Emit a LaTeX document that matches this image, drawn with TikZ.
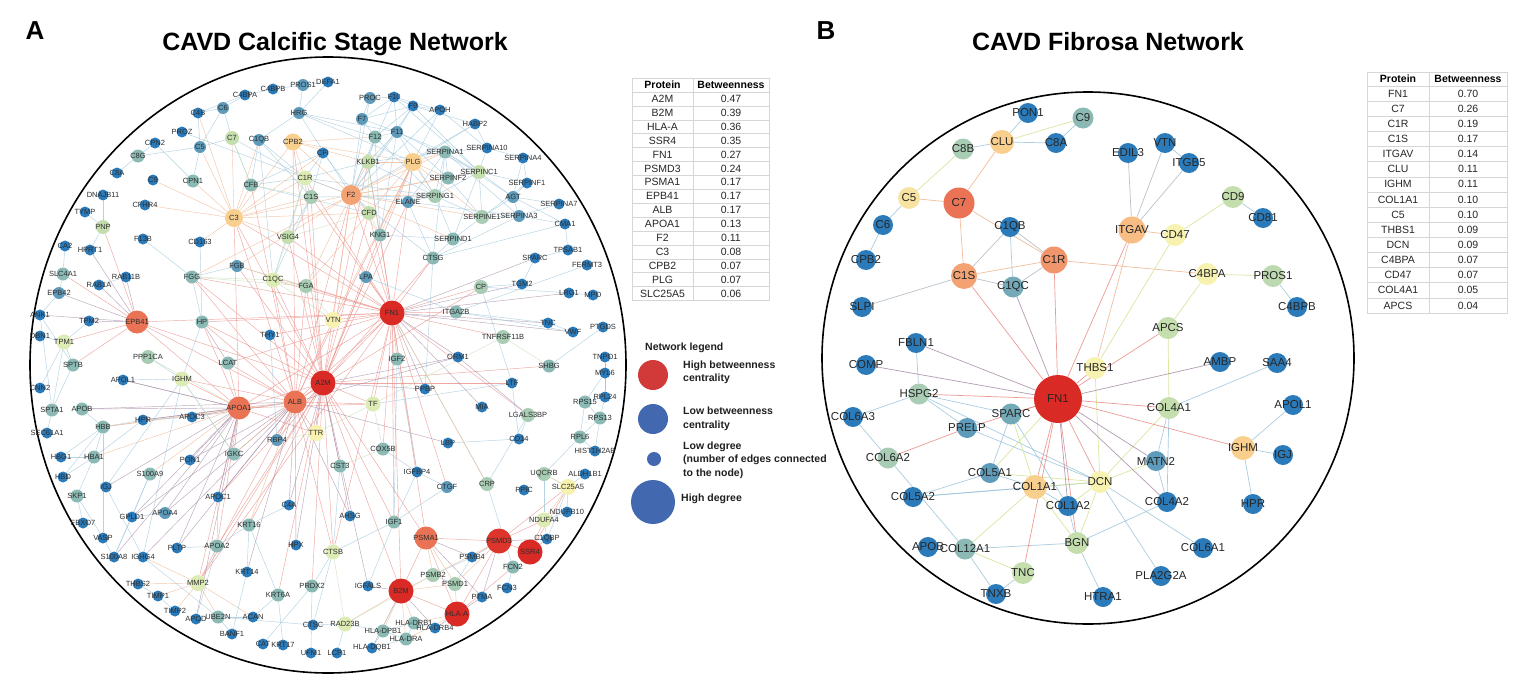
\documentclass[tikz,border=0pt]{standalone}
\usepackage{fontspec}
\setmainfont{Liberation Sans}
\pgfdeclarelayer{bg}
\pgfdeclarelayer{edges}
\pgfsetlayers{bg,edges,main}
\definecolor{cB}{HTML}{2B7BBA}
\definecolor{cTB}{HTML}{5E9BBB}
\definecolor{cT}{HTML}{8BBAB4}
\definecolor{cTG}{HTML}{A8CCB4}
\definecolor{cLG}{HTML}{C4DEAD}
\definecolor{cYG}{HTML}{DDEBB4}
\definecolor{cY}{HTML}{F7F2B0}
\definecolor{cLO}{HTML}{F9CF8E}
\definecolor{cO}{HTML}{F3A274}
\definecolor{cOR}{HTML}{EB7355}
\definecolor{cR}{HTML}{DA2A25}
\definecolor{eB}{HTML}{9CC5DA}
\definecolor{eR}{HTML}{E98A82}
\definecolor{eP}{HTML}{A58AA6}
\definecolor{eG}{HTML}{C5DDB5}
\definecolor{eO}{HTML}{F0B48E}
\definecolor{eGr}{HTML}{AEB8C2}
\definecolor{lR}{HTML}{D23A3A}
\definecolor{lB}{HTML}{4268B0}
\definecolor{tgr}{HTML}{D6D6D6}
\newcommand\PA[4]{\node[#4] (#1) at (#2,#3) {\makebox[0pt]{#1}};}
\newcommand\PB[4]{\node[#4] (b#1) at (#2,#3) {\makebox[0pt]{#1}};}
\newcommand\EE[2]{\foreach \ea/\eb in {#2} {\draw[#1] (\ea) -- (\eb);}}
\begin{document}
\begin{tikzpicture}[x=1pt,y=-1pt,
  nA/.style={circle,inner sep=0pt,font=\fontsize{7.5}{9}\selectfont,text=black!82},
  aB/.style={nA,fill=cB,minimum size=11},
  aTB/.style={nA,fill=cTB,minimum size=12},
  aT/.style={nA,fill=cT,minimum size=13},
  aTG/.style={nA,fill=cTG,minimum size=14},
  aLG/.style={nA,fill=cLG,minimum size=14},
  aYG/.style={nA,fill=cYG,minimum size=15},
  aY/.style={nA,fill=cY,minimum size=16},
  aLO/.style={nA,fill=cLO,minimum size=17},
  aO/.style={nA,fill=cO,minimum size=20},
  aOR/.style={nA,fill=cOR,minimum size=23},
  aR/.style={nA,fill=cR,minimum size=25},
  nB/.style={circle,inner sep=0pt,font=\fontsize{11.5}{13}\selectfont,text=black!85},
  bB/.style={nB,fill=cB,minimum size=20},
  bTB/.style={nB,fill=cTB,minimum size=20},
  bT/.style={nB,fill=cT,minimum size=21},
  bTG/.style={nB,fill=cTG,minimum size=21},
  bLG/.style={nB,fill=cLG,minimum size=22},
  bY/.style={nB,fill=cY,minimum size=22},
  bLO/.style={nB,fill=cLO,minimum size=24},
  bO/.style={nB,fill=cO,minimum size=27},
  bOR/.style={nB,fill=cOR,minimum size=31},
  bR/.style={nB,fill=cR,minimum size=48},
  ed/.style={line width=0.45pt,draw opacity=0.75},
  er/.style={ed,draw=eR}, ep/.style={ed,draw=eP}, eb/.style={ed,draw=eB},
  eg/.style={ed,draw=eG}, eo/.style={ed,draw=eO}, egr/.style={ed,draw=eGr},
  fd/.style={line width=0.7pt,draw opacity=0.85},
  fr/.style={fd,draw=eR}, fp/.style={fd,draw=eP}, fb/.style={fd,draw=eB},
  fg/.style={fd,draw=eG!80!yellow}, fo/.style={fd,draw=eO}, fgr/.style={fd,draw=eGr},
  thead/.style={font=\bfseries\fontsize{10.5}{12}\selectfont,inner sep=0pt},
  tcell/.style={font=\fontsize{10.5}{12}\selectfont,inner sep=0pt,text=black!85},
  tgrid/.style={draw=tgr,line width=0.5pt},
  lgt/.style={font=\bfseries\fontsize{10.5}{13.5}\selectfont,anchor=west,align=left,inner sep=0pt,text=black!88}
]
\begin{pgfonlayer}{bg}
\fill[white] (0,0) rectangle (1537,680);
\end{pgfonlayer}
\useasboundingbox (0,0) rectangle (1537,680);

% titles
\node[font=\bfseries\fontsize{26}{30}\selectfont] (labA) at (35,31) {A};
\node[font=\bfseries\fontsize{25}{28}\selectfont,anchor=base] (titA) at (335,50) {CAVD Calcific Stage Network};
\node[font=\bfseries\fontsize{26}{30}\selectfont] (labB) at (826,31) {B};
\node[font=\bfseries\fontsize{25}{28}\selectfont,anchor=base] (titB) at (1108,50) {CAVD Fibrosa Network};

% frames
\draw[line width=1.6pt] (328,365) ellipse [x radius=298, y radius=308];
\draw[line width=1.6pt] (1088,358) circle [radius=266];

% ===== Panel A nodes =====
\PA{C4B}{198}{113}{aB}
\PA{C6}{223}{108}{aTB}
\PA{C4BPA}{245}{95}{aB}
\PA{C4BPB}{273}{89}{aB}
\PA{PROS1}{303}{85}{aTB}
\PA{DEFA1}{328}{82}{aB}
\PA{HRG}{299}{113}{aTB}
\PA{PROZ}{182}{132}{aB}
\PA{C5}{200}{147}{aTB}
\PA{C7}{232}{138}{aLG}
\PA{C1QB}{259}{140}{aTB}
\PA{CPB2}{293}{142}{aLO}
\PA{CFI}{323}{153}{aB}
\PA{CPN2}{155}{143}{aB}
\PA{C8G}{138}{156}{aT}
\PA{C8A}{117}{173}{aB}
\PA{C9}{153}{180}{aB}
\PA{CPN1}{193}{181}{aT}
\PA{CFB}{251}{185}{aT}
\PA{C1R}{305}{178}{aYG}
\PA{C1S}{311}{197}{aTG}
\PA{DNAJB11}{103}{195}{aB}
\PA{CFHR4}{145}{205}{aB}
\PA{TYMP}{85}{212}{aB}
\PA{PNP}{103}{227}{aLG}
\PA{C3}{234}{218}{aLO,minimum size=18}
\PA{VSIG4}{288}{237}{aLG}
\PA{F13B}{143}{239}{aB}
\PA{CD163}{200}{242}{aB}
\PA{CA2}{65}{246}{aB}
\PA{HPRT1}{90}{250}{aB}
\PA{PROC}{370}{98}{aTB}
\PA{F10}{394}{97}{aB}
\PA{F9}{413}{106}{aB}
\PA{APOH}{440}{110}{aB}
\PA{F7}{362}{119}{aTB}
\PA{F11}{397}{132}{aTB}
\PA{F12}{375}{137}{aT}
\PA{HABP2}{475}{124}{aB}
\PA{SERPINA1}{445}{152}{aT}
\PA{SERPINA10}{487}{148}{aB}
\PA{SERPINA4}{523}{158}{aB}
\PA{KLKB1}{368}{162}{aLG}
\PA{PLG}{413}{162}{aLO,minimum size=18}
\PA{SERPINC1}{479}{172}{aLG}
\PA{SERPINF2}{448}{178}{aT}
\PA{SERPINF1}{527}{183}{aB}
\PA{F2}{351}{195}{aO}
\PA{SERPING1}{435}{196}{aTG}
\PA{ELANE}{408}{202}{aTB}
\PA{AGT}{513}{197}{aTB}
\PA{SERPINA7}{559}{204}{aB}
\PA{CFD}{369}{213}{aLG}
\PA{SERPINE1}{482}{217}{aTG}
\PA{SERPINA3}{519}{216}{aTB}
\PA{CMA1}{565}{224}{aB}
\PA{KNG1}{380}{235}{aT}
\PA{SERPIND1}{453}{239}{aT}
\PA{TPSAB1}{568}{250}{aB}
\PA{SPARC}{535}{258}{aB}
\PA{CTSG}{433}{258}{aT}
\PA{SLC4A1}{63}{274}{aT}
\PA{RAB11B}{126}{277}{aB}
\PA{RAB1A}{99}{285}{aB}
\PA{EPB42}{59}{293}{aTB}
\PA{FGG}{192}{277}{aT}
\PA{FGB}{237}{266}{aTB}
\PA{C1QC}{273}{280}{aYG}
\PA{FGA}{306}{286}{aTG}
\PA{EPB41}{137}{322}{aOR}
\PA{HP}{202}{322}{aT}
\PA{ANK1}{40}{315}{aB}
\PA{TPM2}{89}{321}{aB}
\PA{VTN}{333}{320}{aY}
\PA{THY1}{270}{335}{aB}
\PA{TPM1}{64}{342}{aYG}
\PA{DBN1}{40}{336}{aB}
\PA{PPP1CA}{148}{357}{aTG}
\PA{SPTB}{73}{365}{aT}
\PA{LCAT}{228}{363}{aT}
\PA{APOL1}{123}{380}{aB}
\PA{IGHM}{182}{379}{aYG}
\PA{A2M}{323}{383}{aR}
\PA{CNN2}{40}{388}{aB}
\PA{ALB}{295}{402}{aOR}
\PA{APOA1}{239}{408}{aOR}
\PA{SPTA1}{52}{410}{aT}
\PA{APOB}{82}{409}{aT}
\PA{HBB}{103}{427}{aT}
\PA{HPR}{143}{420}{aB}
\PA{APOC3}{192}{417}{aB}
\PA{TTR}{316}{433}{aY}
\PA{SEC61A1}{47}{433}{aB}
\PA{RBP4}{277}{440}{aTB}
\PA{HBG1}{61}{457}{aB}
\PA{HBA1}{94}{457}{aT}
\PA{PON1}{190}{460}{aB}
\PA{IGKC}{234}{454}{aT}
\PA{CST3}{340}{466}{aT}
\PA{FERMT3}{587}{265}{aB}
\PA{LPA}{366}{277}{aTB}
\PA{CP}{481}{287}{aTG}
\PA{TGM2}{522}{284}{aB}
\PA{LRG1}{569}{293}{aB}
\PA{MPO}{593}{295}{aB}
\PA{FN1}{392}{313}{aR}
\PA{ITGA2B}{456}{312}{aT}
\PA{TNC}{548}{323}{aB}
\PA{VWF}{573}{332}{aB}
\PA{PTGDS}{603}{327}{aB}
\PA{TNFRSF11B}{503}{337}{aTG}
\PA{IGF2}{397}{359}{aT}
\PA{ORM1}{458}{357}{aB}
\PA{SHBG}{549}{366}{aT}
\PA{TNPO1}{605}{357}{aB}
\PA{MYL6}{605}{373}{aB}
\PA{LTF}{512}{383}{aB}
\PA{PPBP}{425}{389}{aB}
\PA{RPL24}{605}{397}{aB}
\PA{RPS15}{585}{402}{aT}
\PA{TF}{373}{404}{aYG}
\PA{MIA}{482}{407}{aB}
\PA{LGALS3BP}{528}{415}{aTG}
\PA{RPS13}{600}{418}{aT}
\PA{LBP}{448}{443}{aB}
\PA{CD14}{519}{439}{aB}
\PA{RPL6}{580}{437}{aT}
\PA{HIST1H2AB}{595}{451}{aB}
\PA{COX5B}{383}{449}{aT}
\PA{IGFBP4}{417}{472}{aB}
\PA{HBD}{63}{477}{aB}
\PA{S100A9}{150}{474}{aT}
\PA{IGJ}{106}{487}{aB}
\PA{SKP1}{77}{496}{aT}
\PA{APOC1}{218}{497}{aB}
\PA{GPLD1}{132}{517}{aB}
\PA{APOA4}{165}{513}{aTB}
\PA{C4A}{289}{505}{aB}
\PA{FBXO7}{83}{523}{aB}
\PA{KRT16}{249}{525}{aT}
\PA{VASP}{103}{538}{aB}
\PA{APOA2}{217}{546}{aT}
\PA{HPX}{296}{545}{aB}
\PA{PLTP}{177}{548}{aB}
\PA{S100A8}{114}{557}{aB}
\PA{IGHG4}{143}{557}{aB}
\PA{CTSB}{333}{552}{aYG}
\PA{KRT14}{247}{572}{aB}
\PA{THBS2}{138}{584}{aB}
\PA{MMP2}{198}{583}{aYG,minimum size=16}
\PA{TIMP1}{158}{596}{aB}
\PA{KRT6A}{278}{595}{aT}
\PA{PRDX2}{312}{586}{aT}
\PA{TIMP2}{175}{611}{aB}
\PA{APOD}{196}{619}{aB}
\PA{UBE2N}{218}{617}{aT}
\PA{ACAN}{253}{617}{aB}
\PA{CTSC}{313}{625}{aB}
\PA{RAD23B}{345}{624}{aYG}
\PA{BANF1}{232}{634}{aB}
\PA{CAT}{263}{644}{aB}
\PA{KRT17}{283}{645}{aB}
\PA{UFM1}{311}{653}{aB}
\PA{LCP1}{337}{653}{aB}
\PA{CTGF}{447}{487}{aTB}
\PA{CRP}{487}{484}{aTG}
\PA{PPIC}{524}{490}{aB}
\PA{UQCRB}{544}{474}{aTG}
\PA{ALDH1B1}{585}{474}{aB}
\PA{SLC25A5}{568}{487}{aY}
\PA{AHSG}{350}{516}{aB}
\PA{IGF1}{394}{522}{aT}
\PA{NDUFB10}{567}{512}{aB}
\PA{NDUFA4}{544}{520}{aYG}
\PA{PSMA1}{426}{538}{aOR}
\PA{PSMD3}{499}{541}{aR,fill=cR!85!cOR}
\PA{C1QBP}{547}{539}{aB}
\PA{SSR4}{530}{552}{aR}
\PA{PSMB4}{472}{557}{aB}
\PA{FCN2}{513}{567}{aT}
\PA{PSMB2}{433}{575}{aTG}
\PA{PSMD1}{455}{584}{aTG}
\PA{IGFALS}{368}{586}{aB}
\PA{FCN3}{507}{588}{aB}
\PA{B2M}{401}{591}{aR}
\PA{PTMA}{482}{597}{aB}
\PA{HLA-A}{457}{614}{aR}
\PA{HLA-DPB1}{383}{631}{aT}
\PA{HLA-DRB1}{414}{623}{aT}
\PA{HLA-DRB4}{435}{628}{aB}
\PA{HLA-DRA}{406}{639}{aT}
\PA{HLA-DQB1}{372}{648}{aB}

% ===== Panel B nodes =====
\PB{PON1}{1028}{113}{bB}
\PB{C9}{1083}{118}{bT}
\PB{CLU}{1002}{142}{bLO}
\PB{C8B}{963}{149}{bTG}
\PB{C8A}{1056}{143}{bB}
\PB{EDIL3}{1128}{153}{bB}
\PB{VTN}{1165}{143}{bB}
\PB{ITGB5}{1189}{163}{bB}
\PB{C5}{909}{198}{bY,fill=cY!60!cLO}
\PB{C7}{959}{203}{bOR}
\PB{CD9}{1233}{197}{bLG}
\PB{C6}{883}{225}{bB}
\PB{CD81}{1263}{218}{bB}
\PB{C1QB}{1010}{227}{bB}
\PB{ITGAV}{1132}{230}{bO,fill=cLO!60!cO}
\PB{CD47}{1175}{235}{bY}
\PB{CPB2}{866}{260}{bB}
\PB{C1R}{1054}{260}{bO,fill=cO!75!cOR}
\PB{C1S}{964}{276}{bO,minimum size=26}
\PB{C4BPA}{1207}{274}{bY}
\PB{PROS1}{1273}{276}{bLG,fill=cLG!70!cTG}
\PB{C1QC}{1013}{287}{bT,fill=cT!50!cTB}
\PB{SLPI}{862}{307}{bB}
\PB{C4BPB}{1297}{307}{bB}
\PB{APCS}{1168}{328}{bLG}
\PB{FBLN1}{916}{343}{bB}
\PB{COMP}{866}{365}{bB}
\PB{THBS1}{1095}{368}{bY}
\PB{AMBP}{1220}{362}{bB}
\PB{SAA4}{1277}{363}{bB}
\PB{FN1}{1058}{399}{bR}
\PB{HSPG2}{919}{394}{bTG}
\PB{COL4A1}{1169}{408}{bLG}
\PB{APOL1}{1293}{405}{bB}
\PB{COL6A3}{853}{417}{bB}
\PB{SPARC}{1011}{414}{bT,fill=cT!50!cTB}
\PB{PRELP}{967}{428}{bTB}
\PB{IGHM}{1243}{448}{bLO}
\PB{IGJ}{1283}{455}{bB}
\PB{COL6A2}{888}{458}{bTG}
\PB{MATN2}{1156}{461}{bTB}
\PB{COL5A1}{990}{473}{bTB}
\PB{DCN}{1100}{482}{bY}
\PB{COL1A1}{1035}{487}{bLO}
\PB{COL5A2}{913}{497}{bB}
\PB{COL1A2}{1068}{506}{bB}
\PB{COL4A2}{1167}{502}{bB}
\PB{HPR}{1253}{504}{bB}
\PB{BGN}{1077}{543}{bLG}
\PB{APOB}{928}{547}{bB}
\PB{COL12A1}{965}{549}{bT}
\PB{COL6A1}{1203}{548}{bB}
\PB{TNC}{1023}{573}{bLG}
\PB{PLA2G2A}{1161}{576}{bB}
\PB{TNXB}{996}{594}{bB}
\PB{HTRA1}{1103}{597}{bB}

% ===== edges =====
\begin{pgfonlayer}{edges}
\EE{er}{FN1/C1R, FN1/C1S, FN1/F2, FN1/CFD, FN1/KNG1, FN1/FGA, FN1/FGG, FN1/FGB, FN1/C1QC, FN1/VTN, FN1/LPA, FN1/CTSG, FN1/ITGA2B, FN1/CP, FN1/TNFRSF11B, FN1/IGF2, FN1/TF, FN1/ALB, FN1/A2M, FN1/APOA1, FN1/HP, FN1/LCAT, FN1/THY1, FN1/IGFBP4, FN1/CTGF, FN1/IGF1, FN1/PSMA1, FN1/CTSB, FN1/MMP2, FN1/C3, FN1/PLG, FN1/KLKB1, FN1/VSIG4, FN1/EPB41, FN1/CRP, FN1/LGALS3BP, FN1/COX5B}
\EE{er}{A2M/F2, A2M/PLG, A2M/C3, A2M/KLKB1, A2M/CPB2, A2M/ELANE, A2M/LPA, A2M/ALB, A2M/APOA1, A2M/TTR, A2M/TF, A2M/B2M, A2M/CST3, A2M/IGF1, A2M/SHBG, A2M/LTF, A2M/CTSB, A2M/MMP2, A2M/APOA2, A2M/APOC1, A2M/KRT16, A2M/KRT6A, A2M/PRDX2, A2M/PSMA1, A2M/HP, A2M/FGA, A2M/FGG, A2M/C1QC, A2M/CFD, A2M/EPB41, A2M/CTSG, A2M/RBP4, A2M/C1R, A2M/C1S, A2M/VSIG4, A2M/FGB, A2M/KNG1}
\EE{er}{ALB/APOA1, ALB/TTR, ALB/LCAT, ALB/HP, ALB/TF, ALB/F2, ALB/PLG, ALB/C3, ALB/CP, ALB/IGHM, ALB/CTSB, ALB/FGA, ALB/FGG, ALB/VTN, ALB/C1QC, ALB/CFB, ALB/CPB2, ALB/EPB41, ALB/MMP2, APOA1/EPB41, APOA1/LCAT, APOA1/HP, APOA1/IGHM, APOA1/C3, APOA1/TTR, APOA1/TF, APOA1/APOA2, APOA1/MMP2, EPB41/PNP, EPB41/SPTB, EPB41/TPM1, EPB41/SLC4A1, PSMA1/PSMD3, PSMA1/B2M, PSMA1/HLA-A, PSMD3/SSR4, PSMD3/HLA-A, B2M/HLA-A, PSMD3/SLC25A5, SSR4/SLC25A5, SSR4/NDUFA4, PSMD3/NDUFA4, HLA-A/FCN2, B2M/FN1}
\EE{ep}{FN1/ORM1, FN1/MIA, FN1/TGM2, FN1/SPARC, FN1/LRG1, FN1/TNC, FN1/VWF, FN1/PPBP, A2M/HPX, A2M/C4A, A2M/AHSG, A2M/IGFALS, A2M/PPBP, A2M/ORM1, ALB/APOC1, ALB/APOC3, ALB/APOA4, ALB/RBP4, ALB/PON1, ALB/AHSG, ALB/HPX, ALB/ORM1, ALB/LBP, ALB/KRT14, ALB/C4A, ALB/GPLD1, ALB/PLTP, ALB/IGHG4, ALB/APOB, APOA1/APOC3, APOA1/APOA4, APOA1/APOB, APOA1/PLTP, APOA1/PON1, APOA1/HPR, APOA1/APOL1, APOA1/GPLD1, APOA1/APOC1, APOA1/IGKC, APOA1/APOD, APOA1/S100A8, APOA1/IGJ, EPB41/RAB1A, EPB41/RAB11B, EPB41/TPM2, EPB41/EPB42, EPB41/ANK1, EPB41/HPRT1, PSMA1/PSMB4, PSMA1/PTMA, PSMD3/PSMB4, PSMD3/PTMA, PSMD3/C1QBP, B2M/HLA-DRB4, B2M/HLA-DQB1, B2M/IGFALS, HLA-A/HLA-DRB4, HLA-A/PTMA, SSR4/C1QBP}
\EE{eo}{ALB/KRT16, APOA1/HBB, APOA1/HBA1, APOA1/S100A9, ALB/HBB, ALB/IGKC, PSMA1/PSMB2, PSMA1/PSMD1, PSMD3/PSMD1, PSMD3/PSMB2, B2M/HLA-DPB1, B2M/HLA-DRB1, B2M/HLA-DRA, B2M/PSMB2, B2M/RAD23B, B2M/PSMD1, HLA-A/PSMD1, HLA-A/HLA-DRB1, HLA-A/HLA-DRA, C3/C5, C3/CFB, C3/CPN1, C3/CFHR4, C3/C9, C3/VSIG4, C3/CD163, C3/F2, C3/C1R, C3/C1S, C3/C7, C3/CFI, C3/C4B, C3/CPB2, C3/C1QB, C3/CFD, F2/KLKB1, F2/PLG, F2/CFD, F2/KNG1, F2/SERPINC1, F2/SERPINA1, F2/SERPIND1, F2/SERPINF2, F2/CPB2, F2/SERPING1, F2/SERPINE1, F2/FGA, F2/FGB, F2/FGG, F2/C1R, F2/VTN, PLG/SERPINF2, PLG/SERPINE1, PLG/KNG1, PLG/CPB2, PLG/SERPINA1, PLG/FGA, PLG/VTN, PLG/KLKB1, PLG/SERPING1, CPB2/C1R, CPB2/KLKB1, CPB2/F12, SLC25A5/NDUFA4, SLC25A5/UQCRB, MMP2/THBS2, MMP2/TIMP1, MMP2/TIMP2, MMP2/UBE2N, MMP2/ACAN, MMP2/IGHG4}
\EE{eb}{F2/F7, F2/F10, F2/F9, F2/F11, F2/F12, F2/PROC, F2/ELANE, F2/HRG, F2/APOH, F2/HABP2, F2/CTSG, F2/PROZ, F7/F10, F7/F9, F7/F12, F7/F11, F7/PROC, F10/F9, F10/F11, F10/PROC, F10/SERPINC1, F10/APOH, F9/F11, F9/SERPINC1, F9/APOH, F9/HABP2, F9/F12, F11/F12, F11/KLKB1, F11/SERPINC1, F11/KNG1, F11/SERPING1, F11/HRG, F11/SERPINF2, F11/SERPINA1, F12/KLKB1, F12/SERPING1, F12/KNG1, F12/HRG, KLKB1/KNG1, KLKB1/SERPING1, KLKB1/SERPINA1, PLG/HRG, PLG/APOH, PLG/HABP2, PLG/ELANE, SERPINA1/ELANE, SERPINA1/SERPINC1, SERPINA1/SERPINA10, SERPINA1/SERPINF2, SERPINA1/SERPINA3, SERPINA1/SERPING1, SERPINA1/AGT, SERPINA1/CTSG, SERPINA10/SERPINA4, SERPINA10/SERPINC1, SERPINA10/HABP2, SERPINA10/APOH, SERPINC1/SERPINF2, SERPINC1/SERPIND1, SERPINC1/SERPINE1, SERPINC1/AGT, SERPINC1/SERPINF1, SERPINC1/SERPING1, SERPINF2/SERPING1, SERPINF2/SERPINE1, SERPING1/ELANE, SERPING1/SERPINE1, SERPING1/SERPIND1, SERPINE1/SERPINA3, SERPINE1/AGT, SERPINE1/SERPIND1, SERPINE1/SERPINF1, AGT/SERPINA3, AGT/SERPINF1, AGT/SERPINA7, AGT/SERPINA4, AGT/CMA1, SERPINA3/CMA1, SERPINA3/SERPINA7, SERPINA3/CTSG, SERPINA3/ELANE, SERPINF1/SERPINA4, SERPIND1/CTSG, SERPIND1/KNG1, CTSG/ELANE, CTSG/CMA1, CMA1/TPSAB1, HRG/C1QB, HRG/PROS1, PROS1/DEFA1, PROS1/C4BPB, C4BPB/C4BPA, C4BPA/C6, C6/C4B, C6/C5, C6/C7, C5/C4B, C5/C7, C5/CPN1, C8G/C8A, C8G/CPN2, C8G/C5, CPN2/CPN1, C1QB/C1R, C1QB/C1S, C1QB/C1QC, C1QB/CFB, C1R/C1S, C1R/C1QC, C1R/CFI, C1R/KLKB1, C1R/SERPING1, C1R/C7, C1R/CFB, C1S/C1QC, C1S/SERPING1, C1S/VSIG4, C1S/CFI, CFI/CFB, CFI/CFD, CFB/CFD, CFB/C7, CD163/HP, F13B/FGG, C4B/C4BPA, DEFA1/HRG}
\EE{eb}{DNAJB11/PNP, TYMP/PNP, HPRT1/PNP, CA2/SLC4A1, SLC4A1/EPB42, EPB42/ANK1, ANK1/SPTA1, ANK1/SPTB, TPM1/TPM2, TPM1/SPTB, TPM1/DBN1, TPM1/CNN2, TPM1/SPTA1, SPTB/SPTA1, RAB1A/RAB11B, SEC61A1/SPTA1, HBG1/HBB, HBA1/HBB, HBD/HBB, HBD/HBA1, HBB/HPR, HBA1/HPR, HBB/APOB, HBB/VASP, HBG1/HBA1, APOL1/IGHM, IGHM/HP, IGHM/IGKC, IGHM/IGHG4, IGHM/IGJ, HPR/APOC3, S100A9/S100A8, S100A9/GPLD1, GPLD1/APOA4, GPLD1/S100A8, SKP1/FBXO7, SKP1/HBA1, VASP/S100A8, VASP/SKP1, IGJ/IGHG4, APOC1/APOA2, APOA2/PLTP, APOA2/KRT16, APOA2/APOD, KRT16/KRT14, KRT16/C4A, KRT16/KRT6A, KRT14/BANF1, THBS2/TIMP1, TIMP2/TIMP1, UBE2N/ACAN, UBE2N/BANF1, UBE2N/IGHG4, UBE2N/CTSC, CTSC/RAD23B, ACAN/KRT6A, KRT6A/KRT17, PRDX2/CAT, PRDX2/CTSB, CTSB/CST3, CTSB/IGF1, RAD23B/LCP1, RAD23B/HLA-DPB1, CTSB/CTSC, PRDX2/UFM1}
\EE{eb}{IGF1/IGFBP4, IGF1/CTGF, IGF1/IGFALS, IGF1/IGF2, IGFBP4/CTGF, IGFBP4/IGF2, CRP/FCN2, CRP/LGALS3BP, UQCRB/NDUFA4, SLC25A5/NDUFB10, SLC25A5/ALDH1B1, SLC25A5/C1QBP, NDUFA4/NDUFB10, NDUFA4/C1QBP, FCN2/FCN3, HLA-DPB1/HLA-DRA, HLA-DPB1/HLA-DRB1, HLA-DPB1/HLA-DQB1, HLA-DRA/HLA-DRB1, HLA-DRA/HLA-DQB1, HLA-DRB1/HLA-DRB4, PSMB4/PSMD1, PSMB4/PSMB2, PSMB2/PSMD1, TGM2/SPARC, TGM2/CP, LRG1/MPO, TNC/VWF, TNC/ITGA2B, VWF/ITGA2B, FERMT3/ITGA2B, PTGDS/SHBG, TNPO1/MYL6, MYL6/RPL24, MYL6/RPS15, RPL24/RPS15, RPS15/RPS13, RPS13/RPL6, RPL6/HIST1H2AB, RPL24/RPS13, RPL6/RPS15, RPS13/HIST1H2AB, TNPO1/RPL24, RPL6/UQCRB, LTF/CD14, LBP/CD14, LGALS3BP/CD14, LTF/CP, PPBP/CTSG, THY1/RBP4, HP/FGG, FGG/FGB, CP/LRG1, ITGA2B/LPA, SPARC/TPSAB1, TF/LTF, COX5B/IGFBP4, PPP1CA/IGHM}
\EE{ep}{ORM1/LGALS3BP, HP/LCAT, APOL1/APOA1, HPR/APOA1}
\EE{eg}{C1QC/FGA, C1QC/VTN, FGA/VTN, VSIG4/C1QC, CFD/KNG1, C1S/CFB, C1R/VSIG4, TF/TTR, TTR/RBP4, TF/COX5B, CST3/COX5B, CTSB/RAD23B, IGKC/IGHM, PPP1CA/APOA1, TNFRSF11B/TF, UQCRB/SLC25A5, FGG/FGA, FGB/FGA, C7/CFB, C1QC/FGG, TNFRSF11B/SHBG, CRP/FN1, PSMB2/RAD23B, KLKB1/CFD, VSIG4/CFD, TPM1/SPTB}
% panel B
\EE{fb}{bPON1/bCLU, bC9/bC8A, bCLU/bC8A, bC8B/bCLU, bC5/bC6, bC6/bCPB2, bC1QB/bC1QC, bVTN/bITGB5, bCD9/bCD81, bPROS1/bC4BPB, bFBLN1/bHSPG2, bSAA4/bCOL4A1, bHSPG2/bCOL6A3, bHSPG2/bPRELP, bHSPG2/bSPARC, bCOL6A3/bCOL6A2, bCOL6A2/bCOL12A1, bCOL5A2/bCOL5A1, bCOL5A2/bCOL1A1, bCOL5A1/bSPARC, bSPARC/bCOL1A2, bMATN2/bCOL4A2, bMATN2/bCOL4A1, bCOL4A1/bCOL4A2, bIGHM/bAPOL1, bIGHM/bIGJ, bIGHM/bHPR, bCOL12A1/bBGN, bCOL12A1/bTNXB, bTNC/bTNXB, bBGN/bHTRA1, bBGN/bCOL4A2, bDCN/bPLA2G2A, bDCN/bCOL6A1, bCOL1A2/bBGN, bPRELP/bDCN, bHSPG2/bDCN, bCOL5A1/bCOL1A1, bCOL1A1/bCOL1A2, bCOL5A2/bDCN}
\EE{fgr}{bITGAV/bEDIL3, bITGAV/bVTN, bITGAV/bITGB5, bC1QB/bC1R, bC1QB/bC1S, bC1S/bC1QC, bC1R/bC1QC, bC1S/bSLPI}
\EE{fo}{bCLU/bC7, bC5/bC7, bC7/bC1S, bC7/bC1R, bC1S/bC1R, bC1R/bC4BPA, bITGAV/bCD47, bITGAV/bTHBS1}
\EE{fg}{bC9/bCLU, bC8B/bC5, bC4BPA/bPROS1, bC4BPA/bAPCS, bCD47/bTHBS1, bCD47/bCD9, bAPCS/bCOL4A1, bTHBS1/bDCN, bDCN/bCOL1A1, bDCN/bBGN, bCOL1A1/bBGN, bCOL1A1/bCOL12A1, bCOL12A1/bTNC, bMATN2/bDCN, bDCN/bCOL4A1, bSPARC/bCOL1A1, bCOL5A1/bDCN, bCOL1A2/bDCN, bCOL5A1/bFN1}
\EE{fr}{bC1S/bFN1, bC1R/bFN1, bITGAV/bFN1, bAPCS/bFN1, bTHBS1/bFN1, bHSPG2/bFN1, bSPARC/bFN1, bPRELP/bFN1, bPRELP/bCOL6A2, bCOL1A1/bFN1, bDCN/bFN1, bCOL4A1/bFN1, bIGHM/bFN1, bFN1/bTNC, bBGN/bFN1}
\EE{fp}{bC1QC/bFN1, bFBLN1/bFN1, bCOMP/bFN1, bAMBP/bFN1, bMATN2/bFN1, bCOL4A2/bFN1, bCOL1A2/bFN1}
\end{pgfonlayer}

% ===== Table A =====
\draw[tgrid] (632,78) rectangle (769,300.5);
\draw[tgrid] (693,78) -- (693,300.5);
\foreach \k in {0,...,14} {\draw[tgrid] (632,{92+13.9*\k}) -- (769,{92+13.9*\k});}
\node[thead] (taH1) at (662.5,85) {Protein};
\node[thead] (taH2) at (731,85) {Betweenness};
\foreach \pp/\vv [count=\i] in {A2M/0.47, B2M/0.39, HLA-A/0.36, SSR4/0.35, FN1/0.27, PSMD3/0.24, PSMA1/0.17, EPB41/0.17, ALB/0.17, APOA1/0.13, F2/0.11, C3/0.08, CPB2/0.07, PLG/0.07, SLC25A5/0.06} {
  \node[tcell] (taP\i) at (662.5,{92+13.9*(\i-0.5)}) {\pp};
  \node[tcell] (taV\i) at (731,{92+13.9*(\i-0.5)}) {\vv};
}
% ===== Table B =====
\draw[tgrid] (1367,72) rectangle (1507,313);
\draw[tgrid] (1429,72) -- (1429,313);
\foreach \k in {0,...,14} {\draw[tgrid] (1367,{86+15.13*\k}) -- (1507,{86+15.13*\k});}
\node[thead] (tbH1) at (1398,79) {Protein};
\node[thead] (tbH2) at (1468,79) {Betweenness};
\foreach \pp/\vv [count=\i] in {FN1/0.70, C7/0.26, C1R/0.19, C1S/0.17, ITGAV/0.14, CLU/0.11, IGHM/0.11, COL1A1/0.10, C5/0.10, THBS1/0.09, DCN/0.09, C4BPA/0.07, CD47/0.07, COL4A1/0.05, APCS/0.04} {
  \node[tcell] (tbP\i) at (1398,{86+15.13*(\i-0.5)}) {\pp};
  \node[tcell] (tbV\i) at (1468,{86+15.13*(\i-0.5)}) {\vv};
}
% ===== Legend =====
\node[lgt] (lgT) at (645,348) {Network legend};
\node[circle,fill=lR,minimum size=30,inner sep=0pt] (lg1) at (653,375) {};
\node[lgt] (lg1t) at (683,372.5) {High betweenness\\centrality};
\node[circle,fill=lB,minimum size=30,inner sep=0pt] (lg2) at (653,419) {};
\node[lgt] (lg2t) at (683,419) {Low betweenness\\centrality};
\node[circle,fill=lB,minimum size=14,inner sep=0pt] (lg3) at (654,459) {};
\node[lgt] (lg3t) at (683,460) {Low degree\\(number of edges connected\\to the node)};
\node[circle,fill=lB,minimum size=44,inner sep=0pt] (lg4) at (653,502) {};
\node[lgt] (lg4t) at (681,499) {High degree};
\end{tikzpicture}
\end{document}
